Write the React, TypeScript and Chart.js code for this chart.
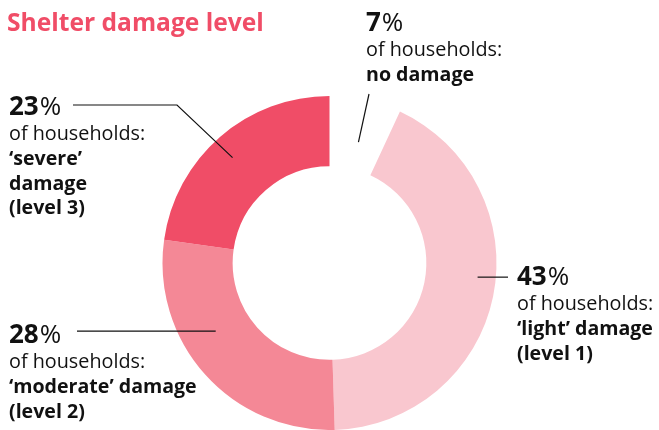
import React, { useEffect, useRef } from "react";
import { Chart, registerables } from "chart.js";

Chart.register(...registerables);

const title = "Shelter damage level";
const categories = ["No damage", "Light damage (level 1)", "Moderate damage (level 2)", "Severe damage (level 3)"];
const values = [7, 43, 28, 23];
const colors = ["rgba(255,255,255,0)", "#F9C7CF", "#F48896", "#F04D67"];
const subLine = "of households:";
const descriptionLines = [
  ["no damage"],
  ["\u2018light\u2019 damage", "(level 1)"],
  ["\u2018moderate\u2019 damage", "(level 2)"],
  ["\u2018severe\u2019", "damage", "(level 3)"],
];

const FONT = "'Open Sans', 'Noto Sans', sans-serif";

// layout of callouts: t = position along arc, f = position across ring
const callouts = [
  { t: 0.54, f: 0.39, kind: "point", ex: 369, ey: 94, tx: 366, ty: 31 },
  { t: 0.46, f: 0.74, kind: "hright", ex: 508, tx: 517, ty: 285 },
  { t: 0.61, f: 0.51, kind: "hleft", ex: 77, tx: 9, ty: 343 },
  { t: 0.48, f: 0.66, kind: "elbow", ex: 177, ey: 105, hx: 73, tx: 9, ty: 115 },
];

const calloutPlugin = {
  id: "callouts",
  afterDraw(chart: any) {
    const ctx = chart.ctx;
    const meta = chart.getDatasetMeta(0);
    ctx.save();
    ctx.fillStyle = "#F04D67";
    ctx.font = `bold 24.6px ${FONT}`;
    ctx.textBaseline = "alphabetic";
    ctx.textAlign = "left";
    ctx.fillText(title, 7, 31);

    meta.data.forEach((arc: any, i: number) => {
      const p = arc.getProps(["x", "y", "startAngle", "endAngle", "innerRadius", "outerRadius"], true);
      const c = callouts[i];
      const a = p.startAngle + c.t * (p.endAngle - p.startAngle);
      const r = p.innerRadius + c.f * (p.outerRadius - p.innerRadius);
      const ax = p.x + r * Math.cos(a);
      const ay = p.y + r * Math.sin(a);
      ctx.strokeStyle = "#111";
      ctx.lineWidth = 1.2;
      ctx.beginPath();
      ctx.moveTo(ax, ay);
      if (c.kind === "point") {
        ctx.lineTo(c.ex, c.ey);
      } else if (c.kind === "hright" || c.kind === "hleft") {
        ctx.lineTo(c.ex, ay);
      } else {
        ctx.lineTo(c.ex, c.ey);
        ctx.lineTo(c.hx, c.ey);
      }
      ctx.stroke();

      ctx.fillStyle = "#111";
      const num = String(values[i]);
      ctx.font = `bold 26px ${FONT}`;
      ctx.fillText(num, c.tx, c.ty);
      const w = ctx.measureText(num).width;
      ctx.font = `26px ${FONT}`;
      ctx.fillText("%", c.tx + w + 1, c.ty);
      let y = c.ty + 25;
      ctx.font = `19.8px ${FONT}`;
      ctx.fillText(subLine, c.tx, y);
      ctx.font = `bold 19.6px ${FONT}`;
      descriptionLines[i].forEach((line) => {
        y += 24.8;
        ctx.fillText(line, c.tx, y);
      });
    });
    ctx.restore();
  },
};

export default function App() {
  const ref = useRef<HTMLCanvasElement>(null);
  useEffect(() => {
    if (!ref.current) return;
    const chart = new Chart(ref.current, {
      type: "doughnut",
      data: {
        labels: categories,
        datasets: [
          {
            data: values,
            backgroundColor: colors,
            borderWidth: 0,
            offset: 0,
            hoverOffset: 0,
          },
        ],
      },
      options: {
        responsive: false,
        animation: false,
        devicePixelRatio: 1,
        cutout: "58%",
        layout: { padding: { top: 96, bottom: 0, left: 0, right: 0 } },
        plugins: { legend: { display: false }, tooltip: { enabled: false }, title: { display: false } },
      },
      plugins: [calloutPlugin],
    });
    return () => chart.destroy();
  }, []);
  return (
    <div style={{ position: "fixed", left: 0, top: 0, width: 659, height: 430, background: "#fff" }}>
      <canvas ref={ref} width={659} height={430} style={{ width: 659, height: 430, display: "block" }} />
    </div>
  );
}
